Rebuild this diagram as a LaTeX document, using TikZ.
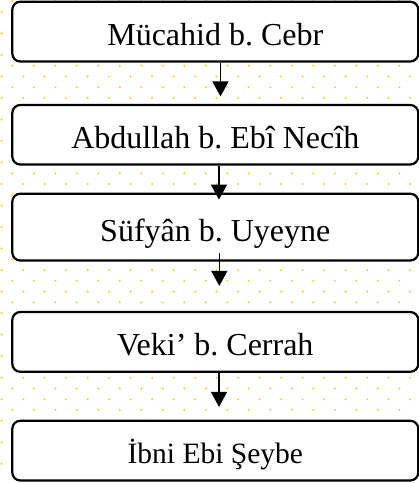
\documentclass[tikz,border=0pt]{standalone}
\usepackage{fontspec}
\setmainfont{Liberation Serif}
\usetikzlibrary{arrows.meta}
\frenchspacing
\definecolor{dotc}{RGB}{255,208,85}
\tikzset{
  box/.style={draw=black, fill=white, line width=2.2pt, rounded corners=8pt,
    minimum width=406pt, inner sep=0pt, text height=28pt, text depth=0pt,
    font=\fontsize{32}{38}\selectfont},
  arr/.style={draw=black, line width=1.6pt, -{Triangle[width=16pt,length=15pt]}}
}
\begin{document}
\begin{tikzpicture}[x=1pt,y=-1pt]
\useasboundingbox (0,0) rectangle (419,483);
\begin{scope}
\clip (0,0) rectangle (419,483);
\foreach \n in {0,...,44} {
  \pgfmathsetmacro{\yy}{1.1+10.76*\n}
  \pgfmathsetmacro{\xo}{ifthenelse(mod(\n,2)==1,1.6,12.3)}
  \foreach \k in {0,...,19} {
    \fill[dotc] (\xo+21.5*\k,\yy) circle (1.3);
  }
}
\end{scope}
\node[box, minimum height=59.8pt] (b1) at (215.3,31.6) {Mücahid b. Cebr};
\node[box, minimum height=59.5pt] (b2) at (215.3,134.75) {Abdullah b. Ebî Necîh};
\node[box, minimum height=66.8pt] (b3) at (215.3,227.1) {Süfyân b. Uyeyne};
\node[box, minimum height=59.8pt] (b4) at (215.3,341.9) {Veki’ b. Cerrah};
\node[box, minimum height=59.7pt, text height=26.4pt, font=\fontsize{29.5}{35}\selectfont] (b5) at (215.3,450.65) {İbni Ebi Şeybe};
\draw[arr, shorten >=7.5pt] ([xshift=5.2pt]b1.south) -- ([xshift=5.2pt]b2.north);
\draw[arr, shorten >=-7pt] ([xshift=3.7pt]b2.south) -- ([xshift=3.7pt]b3.north);
\draw[arr, shorten <=-8.5pt, shorten >=25pt] ([xshift=4pt]b3.south) -- ([xshift=4pt]b4.north);
\draw[arr, shorten >=12.8pt] ([xshift=3.7pt]b4.south) -- ([xshift=3.7pt]b5.north);
\end{tikzpicture}
\end{document}
